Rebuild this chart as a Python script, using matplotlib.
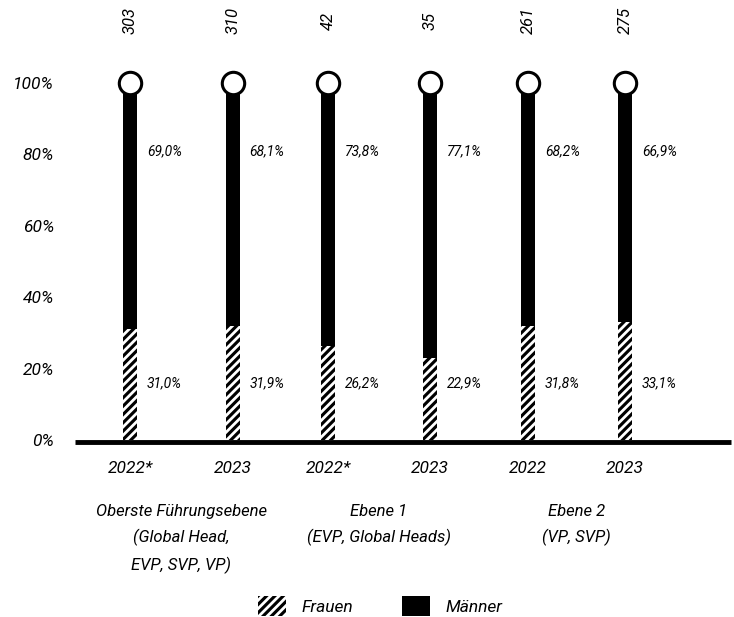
import matplotlib
matplotlib.use("Agg")
import matplotlib.pyplot as plt
from matplotlib.patches import Patch

years = ["2022*", "2023", "2022*", "2023", "2022", "2023"]
totals = [303, 310, 42, 35, 261, 275]
frauen = [31.0, 31.9, 26.2, 22.9, 31.8, 33.1]
maenner = [69.0, 68.1, 73.8, 77.1, 68.2, 66.9]
groups = ["Oberste Führungsebene\n(Global Head,\nEVP, SVP, VP)",
          "Ebene 1\n(EVP, Global Heads)",
          "Ebene 2\n(VP, SVP)"]

plt.rcParams["font.family"] = "Roboto"
plt.rcParams["hatch.linewidth"] = 2.0

fig = plt.figure(figsize=(7.34, 6.17), dpi=100)
ax = fig.add_axes([0.102, 0.287, 0.894, 0.5785])

x = [0, 1.04, 2, 3.03, 4.02, 5]
ax.bar(x, frauen, width=0.14, color="black", edgecolor="white", hatch="////", linewidth=0)
ax.bar(x, maenner, bottom=frauen, width=0.14, color="black", linewidth=0)
tops = [f + m for f, m in zip(frauen, maenner)]
ax.scatter(x, tops, s=260, color="white", edgecolor="black", linewidth=2.2, zorder=5, clip_on=False)

for xi, n, f, m in zip(x, totals, frauen, maenner):
    ax.text(xi, 117.5, str(n), rotation=90, ha="center", va="center", fontsize=12,
            style="italic", clip_on=False)
    ax.text(xi + 0.17, 81, f"{m:.1f}%".replace(".", ","), ha="left", va="center",
            fontsize=10, style="italic")
    ax.text(xi + 0.17, 16, f"{f:.1f}%".replace(".", ","), ha="left", va="center",
            fontsize=10, style="italic")

ax.set_xlim(-0.556, 6.07)
ax.set_ylim(0, 100)
ax.set_yticks([0, 20, 40, 60, 80, 100])
ax.set_yticklabels(["0%", "20%", "40%", "60%", "80%", "100%"], fontsize=12.5, style="italic")
ax.tick_params(axis="y", length=0, pad=15)
ax.set_xticks([])
for s in ["top", "right", "left"]:
    ax.spines[s].set_visible(False)
ax.spines["bottom"].set_linewidth(3.5)
ax.spines["bottom"].set_capstyle("butt")
ax.spines["bottom"].set_position(("data", -0.7))

for xi, yr in zip(x, years):
    ax.text(xi, -8, yr, ha="center", va="center", fontsize=12.5, style="italic", clip_on=False)
for gi, g in enumerate(groups):
    ax.text((x[2 * gi] + x[2 * gi + 1]) / 2, -18.0, g, ha="center", va="top", fontsize=12,
            style="italic", linespacing=1.75, clip_on=False)

handles = [Patch(facecolor="black", edgecolor="white", hatch="////", linewidth=0, label="Frauen"),
           Patch(facecolor="black", label="Männer")]
fig.legend(handles=handles, loc="center", bbox_to_anchor=(0.518, 0.018), ncol=2, frameon=False,
           prop={"style": "italic", "size": 12.5}, handlelength=1.6, handleheight=1.4,
           columnspacing=2.8, handletextpad=0.9)

fig.savefig("out.png", dpi=100)
